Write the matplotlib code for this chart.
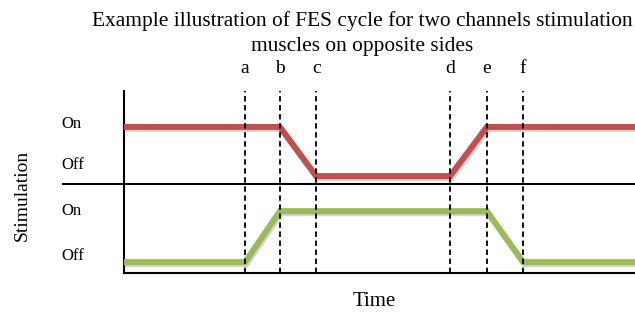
import matplotlib.pyplot as plt
import matplotlib.patheffects as pe

plt.rcParams['font.family'] = ['Liberation Serif', 'DejaVu Serif']

# event times (arbitrary time units, axis runs 0..10)
event_labels = ['a', 'b', 'c', 'd', 'e', 'f']
event_times = [2.37, 3.05, 3.76, 6.38, 7.10, 7.81]

# channel 1 (red): on -> off between b and c, off -> on between d and e
ch1_t = [0, 3.05, 3.76, 6.38, 7.10, 10]
ch1_y = [3.21, 3.21, 2.13, 2.13, 3.21, 3.21]

# channel 2 (green): off -> on between a and b, on -> off between e and f
ch2_t = [0, 2.37, 3.05, 7.10, 7.81, 10]
ch2_y = [0.24, 0.24, 1.36, 1.36, 0.24, 0.24]

level_ticks = [3.32, 2.42, 1.41, 0.42]
level_labels = ['On', 'Off', 'On', 'Off']
divider = 1.96

fig = plt.figure(figsize=(6.35, 3.14), dpi=100)
ax = fig.add_axes([124 / 635, 41 / 314, 511 / 635, 182 / 314])
ax.set_xlim(0, 10)
ax.set_ylim(0, 4)

shadow = [pe.SimpleLineShadow(offset=(1, -1.5), shadow_color='gray', alpha=0.35), pe.Normal()]
ax.plot(ch1_t, ch1_y, color='#C0504D', lw=4.3, solid_capstyle='butt',
        solid_joinstyle='miter', path_effects=shadow, zorder=3)
ax.plot(ch2_t, ch2_y, color='#9BBB59', lw=4.3, solid_capstyle='butt',
        solid_joinstyle='miter', path_effects=shadow, zorder=3)

ax.vlines(event_times, 0, 4, colors='black', linestyles=(0, (3, 2)), lw=1.3, zorder=4)
for lab, t in zip(event_labels, event_times):
    ax.text(t, 1.125, lab, transform=ax.get_xaxis_transform(), ha='center',
            va='center', fontsize=14)

ax.axhline(divider, xmin=-0.119, xmax=1, color='black', lw=1.5, clip_on=False)

for s in ['top', 'right']:
    ax.spines[s].set_visible(False)
ax.spines['left'].set_linewidth(1.5)
ax.spines['bottom'].set_linewidth(1.5)

ax.set_xticks([])
ax.set_yticks(level_ticks)
ax.set_yticklabels(level_labels, fontsize=12, ha='left')
ax.tick_params(axis='y', length=0, pad=45)

fig.text(374 / 635, 1 - 302 / 314, 'Time', fontsize=15, ha='center', va='center')
fig.text(22 / 635, 1 - 195 / 314, 'Stimulation', rotation=90, fontsize=14,
         ha='center', va='center')

fig.text(362 / 635, 1 - 21 / 314, 'Example illustration of FES cycle for two channels stimulation',
         fontsize=15.4, ha='center', va='center')
fig.text(362 / 635, 1 - 46 / 314, 'muscles on opposite sides',
         fontsize=15.4, ha='center', va='center')

fig.savefig('out.png', dpi=100)
